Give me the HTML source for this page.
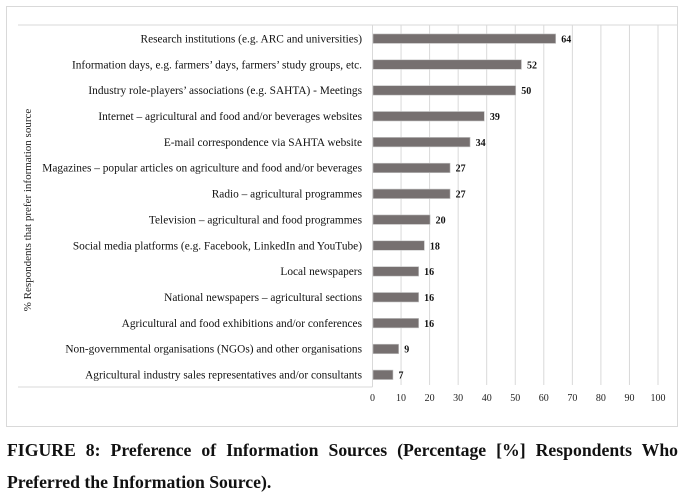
<!DOCTYPE html>
<html><head><meta charset="utf-8"><style>
body{margin:0;background:#fff;width:687px;height:490px;overflow:hidden;font-family:"Liberation Serif",serif}
#cap{position:absolute;left:7px;top:434px;width:671px;font-weight:bold;font-size:17.7px;line-height:32px;color:#111}
#cap .l1{display:block;text-align:justify;text-align-last:justify;white-space:nowrap}
</style></head><body>
<svg id="chart" width="687" height="430" style="position:absolute;left:0;top:0" font-family="Liberation Serif, serif"></svg>
<div id="cap"><span class="l1">FIGURE 8: Preference of Information Sources (Percentage [%] Respondents Who</span>Preferred the Information Source).</div>
<script>
const categories=["Research institutions (e.g. ARC and universities)","Information days, e.g. farmers’ days, farmers’ study groups, etc.","Industry role-players’ associations (e.g. SAHTA) - Meetings","Internet – agricultural and food and/or beverages websites","E-mail correspondence via SAHTA website","Magazines – popular articles on agriculture and food and/or beverages","Radio – agricultural programmes","Television – agricultural and food programmes","Social media platforms (e.g. Facebook, LinkedIn and YouTube)","Local newspapers","National newspapers – agricultural sections","Agricultural and food exhibitions and/or conferences","Non-governmental organisations (NGOs) and other organisations","Agricultural industry sales representatives and/or consultants"];
const values=[64,52,50,39,34,27,27,20,18,16,16,16,9,7];
const ticks=[0,10,20,30,40,50,60,70,80,90,100];
const svg=document.getElementById('chart');
const NS='http://www.w3.org/2000/svg';
function mk(t,a,p){const e=document.createElementNS(NS,t);for(const k in a)e.setAttribute(k,a[k]);(p||svg).appendChild(e);return e;}
const x0=372.5,x1=658,yTop=25,yBot=387;
const xs=v=>x0+(x1-x0)*v/100;
const step=(yBot-yTop)/categories.length;
const yc=i=>yTop+step*(i+0.5);
let e=mk('rect',{x:6.5,y:6.5,width:671,height:420,fill:'none',stroke:'#d9d9d9'});

ticks.forEach(t=>{
 if(t>0){let g=mk('line',{x1:xs(t),x2:xs(t),y1:yTop,y2:385,stroke:'#d9d9d9'});
 }
 let l=mk('text',{x:xs(t),y:401,'text-anchor':'middle','font-size':10,fill:'#222'});l.textContent=t;
 
});
e=mk('line',{x1:18,x2:x1+20,y1:yTop,y2:yTop,stroke:'#d9d9d9'});

e=mk('line',{x1:18,x2:x0,y1:yBot,y2:yBot,stroke:'#d9d9d9'});

e=mk('line',{x1:x0,x2:x0,y1:yTop,y2:yBot,stroke:'#d9d9d9'});

categories.forEach((c,i)=>{
 const y=yc(i)+0.5;
 let t=mk('text',{x:362,y:y+4,'text-anchor':'end','font-size':11.35,fill:'#111'});t.textContent=c;
 
 let b=mk('rect',{x:x0+0.5,y:y-4.5,width:xs(values[i])-x0,height:9.5,fill:'#767070',stroke:'#c8c8c8','stroke-width':0.6});
 
 let v=mk('text',{x:xs(values[i])+6,y:y+4,'font-size':10,'font-weight':'bold',fill:'#111'});v.textContent=values[i];
 
});
e=mk('text',{x:0,y:0,transform:'translate(31,210) rotate(-90)','text-anchor':'middle','font-size':11,fill:'#222'});
e.textContent='% Respondents that prefer information source';

</script>
</body></html>
